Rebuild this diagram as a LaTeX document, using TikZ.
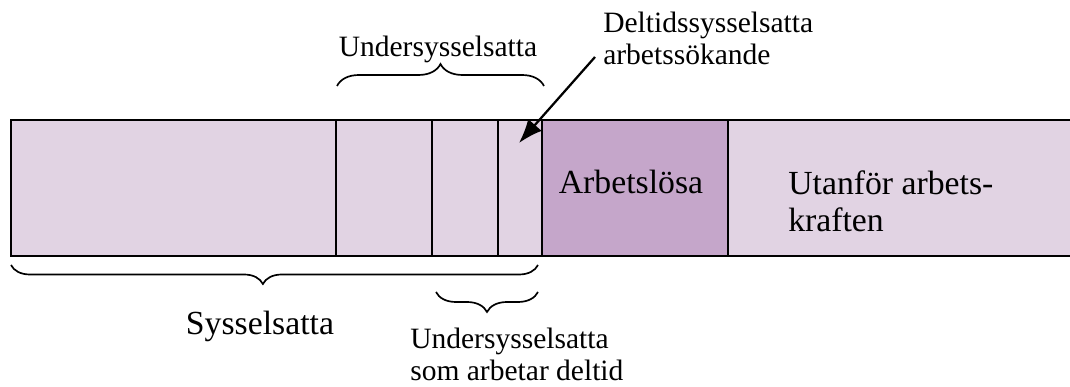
\documentclass[tikz,border=0pt]{standalone}
\usepackage{fontspec}
\setmainfont{Liberation Serif}
\usetikzlibrary{decorations.pathreplacing}
\usetikzlibrary{arrows.meta}

\definecolor{ljuslila}{HTML}{E1D3E3}
\definecolor{morklila}{HTML}{C5A6CA}

\begin{document}
\begin{tikzpicture}[
        stor/.style={font=\fontsize{24}{27}\selectfont, inner sep=0pt},
        liten/.style={font=\fontsize{21}{23}\selectfont, inner sep=0pt},
        klammer/.style={decorate, decoration={brace, amplitude=#1}, line width=1.2pt}
    ]
    \useasboundingbox (0,0) rectangle (26.75,9.675);

    \begin{scope}[line width=1.2pt]
    % Bar:
    % The bar runs out past the right edge of the picture
    \fill [ljuslila] (0.275,3.275) rectangle (27,6.675);
    \fill [morklila] (13.55,3.275) rectangle (18.2,6.675);
    \draw (27,6.675) -- (0.275,6.675) -- (0.275,3.275) -- (27,3.275);
    \foreach \x in {8.4,10.8,12.45,13.55,18.2}{%
        \draw (\x,3.275) -- (\x,6.675);
    }
    \end{scope}

    % Labels in the bar
    % (base of a two-line node = baseline of its last line)
    \node [stor, anchor=base] (arbetslosa) at (15.775,4.825) {Arbetslösa};
    \node [stor, anchor=base west, align=left] (utanfor) at (19.7,3.875) {Utanför arbets-\\kraften};

    % Braces:
    \draw [klammer=0.55cm] (8.425,7.525) -- (13.6,7.525);
    \node [liten, anchor=base] (under) at (10.95,8.25) {Undersysselsatta};

    \draw [klammer=0.475cm, decoration={aspect=0.522}] (13.45,3.05) -- (0.275,3.05);
    \node [stor, anchor=base] (syss) at (6.5,1.3) {Sysselsatta};

    \draw [klammer=0.5cm] (13.45,2.375) -- (10.9,2.375);
    \node [liten, anchor=base west, align=left] (underdeltid) at (10.25,0.15) {Undersysselsatta\\som arbetar deltid};

    % Arrow
    \node [liten, anchor=base west, align=left] (deltid) at (15.075,8.05) {Deltidssysselsatta\\arbetssökande};
    \coordinate (pilstart) at (14.875,8.25);
    \coordinate (pilslut) at (12.975,6.1);
    \draw [-{Latex[length=6mm,width=4.5mm]}, line width=1.6pt] (pilstart) -- (pilslut);
\end{tikzpicture}
\end{document}
